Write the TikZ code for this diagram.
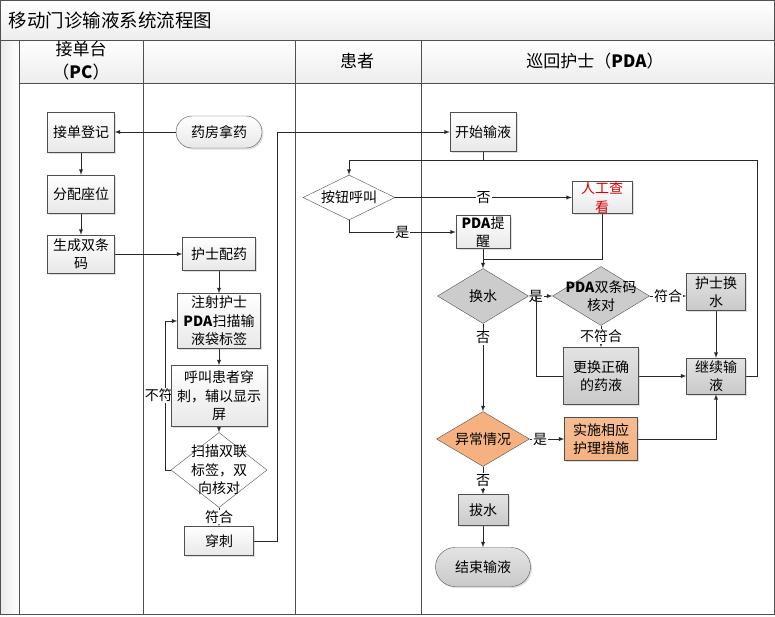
\documentclass[tikz,border=0pt]{standalone}
\usepackage{fontspec}
\setmainfont{Noto Sans CJK SC}
\usetikzlibrary{shapes.geometric,shapes.misc,shadows}

\definecolor{linegray}{RGB}{40,40,40}
\definecolor{rimgray}{RGB}{80,80,80}
\definecolor{boxorange}{RGB}{245,178,128}

\pgfdeclarelayer{lanes}
\pgfdeclarelayer{links}
\pgfsetlayers{lanes,links,main}

\begin{document}
\begin{tikzpicture}[x=1pt, y=-1pt]
\tikzset{ >=latex,
  txt/.style={font=\fontsize{14}{18.5}\selectfont, align=center},
  lbl/.style={txt, fill=white, inner sep=1pt},
  link/.style={draw=linegray, line width=0.9pt},
  plain/.style={txt, rectangle, draw=rimgray, inner sep=0pt, top color=white, bottom color=gray!18,
                drop shadow={opacity=0.25, shadow xshift=1.5pt, shadow yshift=-1.5pt}},
  dark/.style={plain, top color=gray!22, bottom color=gray!42},
  warm/.style={plain, top color=boxorange!85, bottom color=boxorange},
  term/.style={plain, rounded rectangle},
  decide/.style={diamond, draw=rimgray, inner sep=0pt, fill=white},
}

\useasboundingbox (0,0) rectangle (775,616);

%\draw [lightgray, dashed](0,0) grid (775,616);

% pool and lanes
\begin{pgfonlayer}{lanes}
\shade [top color=white, bottom color=gray!14] (0.5,0.5) rectangle (774,40);
\shade [left color=gray!16, right color=white] (0.5,40) rectangle (19.5,614);
\shade [top color=white, bottom color=gray!14] (19.5,40) rectangle (774,83.5);
\draw [rimgray, line width=1pt] (0.5,0.5) rectangle (774,614);
\draw [rimgray, line width=1pt] (0.5,40) -- (774,40);
\draw [rimgray, line width=1pt] (19.5,83.5) -- (774,83.5);
\foreach \lx in {19.5,143,295,421}
  \draw [rimgray, line width=1pt] (\lx,40) -- (\lx,614);
\end{pgfonlayer}

\node [anchor=west, font=\fontsize{18.5}{20}\selectfont] (title) at (5,20) {移动门诊输液系统流程图};

\node [font=\fontsize{17}{23}\selectfont, align=center] (hpc) at (81,61) {接单台\\（\textbf{PC}）};
\node [font=\fontsize{17}{23}\selectfont] (hpat) at (357,61) {患者};
\node [font=\fontsize{17}{23}\selectfont] (hpda) at (595,61) {巡回护士（\textbf{PDA}）};

% PC lane
\node [plain, minimum width=67pt, minimum height=40pt] (jddj) at (81,132) {接单登记};
\node [plain, minimum width=67pt, minimum height=38pt] (fpzw) at (81,194) {分配座位};
\node [plain, minimum width=67pt, minimum height=38pt] (scsm) at (81,254) {生成双条\\码};

% second lane
\node [term, minimum width=86pt, minimum height=32pt] (yfnq) at (219,132) {药房拿药};
\node [plain, minimum width=73pt, minimum height=33pt] (hspy) at (219,254) {护士配药};
\node [plain, minimum width=83pt, minimum height=55pt] (zshs) at (219,321) {注射护士\\\textbf{PDA}扫描输\\液袋标签};
\node [plain, minimum width=96pt, minimum height=61pt] (hjhz) at (219,396) {呼叫患者穿\\刺，辅以显示\\屏};
\node [decide, minimum width=96pt, minimum height=75pt,
       label={[txt]center:扫描双联\\标签，双\\向核对}] (smsl) at (219,470) {};
\node [plain, minimum width=69pt, minimum height=29pt] (cc) at (219,541) {穿刺};

% patient lane
\node [decide, minimum width=92pt, minimum height=45pt,
       label={[txt]center:按钮呼叫}] (anhj) at (349,197.5) {};

% PDA lane
\node [plain, minimum width=66pt, minimum height=39pt] (ksxy) at (483,132) {开始输液};
\node [plain, minimum width=60pt, minimum height=32pt, text=red!85!black] (rgck) at (602,197.5) {人工查\\看};
\node [plain, minimum width=54pt, minimum height=33pt] (pdatx) at (483,232) {\textbf{PDA}提\\醒};
\node [decide, fill=gray!40, minimum width=91pt, minimum height=55pt,
       label={[txt]center:换水}] (hs) at (483,296) {};
\node [decide, fill=gray!40, minimum width=97pt, minimum height=59pt,
       label={[txt]center:\textbf{PDA}双条码\\核对}] (hd) at (601,296) {};
\node [dark, minimum width=59pt, minimum height=37pt] (hshs) at (716,292) {护士换\\水};
\node [dark, minimum width=75pt, minimum height=57pt] (ghzq) at (601,376) {更换正确\\的药液};
\node [dark, minimum width=59pt, minimum height=36pt] (jxsy) at (716,376) {继续输\\液};
\node [decide, fill=boxorange, minimum width=93pt, minimum height=55pt,
       label={[txt]center:异常情况}] (ycqk) at (483,439) {};
\node [warm, minimum width=73pt, minimum height=43pt] (ssxy) at (601,439) {实施相应\\护理措施};
\node [dark, minimum width=50pt, minimum height=31pt] (bs) at (483,510) {拔水};
\node [term, top color=gray!22, bottom color=gray!42, minimum width=95pt, minimum height=39pt] (jsxy) at (483,567) {结束输液};

\coordinate (ret) at (757,160);
\coordinate (meet) at (483,259);
\coordinate (rechk) at (536,296);

\begin{pgfonlayer}{links}
\draw [link,->] (yfnq) -- (jddj);
\draw [link,->] (jddj) -- (fpzw);
\draw [link,->] (fpzw) -- (scsm);
\draw [link,->] (scsm) -- (hspy);
\draw [link,->] (hspy) -- (zshs);
\draw [link,->] (zshs) -- (hjhz);
\draw [link,->] (hjhz) -- (smsl);
\draw [link,->] (smsl) -- node [lbl] {符合} (cc);
\draw [link,->] (smsl.west) -- ++(-5,0) |- node [lbl, pos=0.25] {不符合} (zshs.west);
\draw [link,->] (cc.east) -- ++(24,0) |- (ksxy.west);

\draw [link] (ksxy.south) -- (ksxy.south |- ret);
\draw [link,->] (jxsy.east) -| (ret) -| (anhj.north);
\draw [link,->] (anhj.east) -- node [lbl] {否} (rgck.west);
\draw [link,->] (anhj.south) |- node [lbl, pos=0.75] {是} (pdatx.west);
\draw [link,->] (pdatx) -- (hs);
\draw [link] (rgck.south) |- (meet);

\draw [link,->] (hs.east) -- node [lbl, pos=0.3] {是} (hd.west);
\draw [link,->] (hd.east) -- node [lbl] {符合} (hd.east -| hshs.west);
\draw [link,->] (hd) -- node [lbl] {不符合} (ghzq);
\draw [link] (ghzq.west) -| (rechk);
\draw [link,->] (ghzq) -- (jxsy);
\draw [link,->] (hshs) -- (jxsy);

\draw [link,->] (hs) -- node [lbl, pos=0.16] {否} (ycqk);
\draw [link,->] (ycqk) -- node [lbl, pos=0.3] {是} (ssxy);
\draw [link,->] (ssxy.east) -| (jxsy.south);
\draw [link,->] (ycqk) -- node [lbl] {否} (bs);
\draw [link,->] (bs) -- (jsxy);
\end{pgfonlayer}
\end{tikzpicture}
\end{document}
